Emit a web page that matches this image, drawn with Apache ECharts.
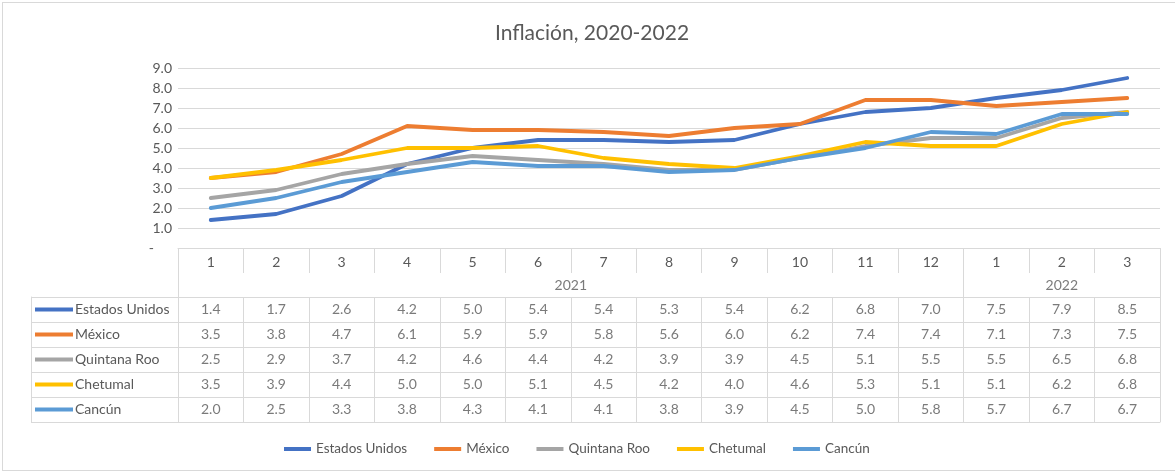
<!DOCTYPE html>
<html>
<head>
<meta charset="utf-8">
<script src="https://cdn.jsdelivr.net/npm/echarts@6/dist/echarts.min.js"></script>
<style>
  html, body { margin: 0; padding: 0; background: #fff; overflow: hidden; }
  #frame { position: absolute; left: 2px; top: 2px; width: 1200px; height: 467px; border: 1px solid #d9d9d9; border-right: none; }
  #chart { position: absolute; left: 0; top: 0; width: 1175px; height: 473px; }
</style>
</head>
<body>
<div id="frame"></div>
<div id="chart"></div>
<script>
// periodos (mes) y años
const months = ["1", "2", "3", "4", "5", "6", "7", "8", "9", "10", "11", "12", "1", "2", "3"];
const years = ["2021", "2022"];
const yearSpans = [12, 3];

const seriesNames = ["Estados Unidos", "México", "Quintana Roo", "Chetumal", "Cancún"];
const seriesColors = ["#4472C4", "#ED7D31", "#A5A5A5", "#FFC000", "#5B9BD5"];

const estadosUnidos = [1.4, 1.7, 2.6, 4.2, 5.0, 5.4, 5.4, 5.3, 5.4, 6.2, 6.8, 7.0, 7.5, 7.9, 8.5];
const mexico = [3.5, 3.8, 4.7, 6.1, 5.9, 5.9, 5.8, 5.6, 6.0, 6.2, 7.4, 7.4, 7.1, 7.3, 7.5];
const quintanaRoo = [2.5, 2.9, 3.7, 4.2, 4.6, 4.4, 4.2, 3.9, 3.9, 4.5, 5.1, 5.5, 5.5, 6.5, 6.8];
const chetumal = [3.5, 3.9, 4.4, 5.0, 5.0, 5.1, 4.5, 4.2, 4.0, 4.6, 5.3, 5.1, 5.1, 6.2, 6.8];
const cancun = [2.0, 2.5, 3.3, 3.8, 4.3, 4.1, 4.1, 3.8, 3.9, 4.5, 5.0, 5.8, 5.7, 6.7, 6.7];

const yMin = 0;
const yMax = 9;
const yStep = 1;

const allSeries = [estadosUnidos, mexico, quintanaRoo, chetumal, cancun];

const textColor = "#595959";
const borderColor = "#d9d9d9";
const font = "Lato, 'Open Sans', sans-serif";

// celdas de la tabla: [columna, fila, valor]
const tableCells = [];
allSeries.forEach((vals, r) => {
  vals.forEach((v, c) => tableCells.push([c, r, v.toFixed(1)]));
});

// años: centro de cada grupo y límites
const yearCells = [];
const yearBounds = [0];
let acc = 0;
years.forEach((y, i) => {
  yearCells.push([acc + yearSpans[i] / 2, 0.5, y]);
  acc += yearSpans[i];
  yearBounds.push(acc);
});

const rich = {};
seriesNames.forEach((n, i) => {
  rich["l" + i] = { width: 38, height: 4, backgroundColor: seriesColors[i] };
});
rich.name = { fontSize: 14, color: textColor, fontFamily: font, padding: [0, 0, 0, 2] };

const chart = echarts.init(document.getElementById("chart"));

chart.setOption({
  animation: false,
  textStyle: { fontFamily: font },
  title: {
    text: "Inflación, 2020-2022",
    left: 587,
    textAlign: "center",
    top: 18,
    textStyle: { fontSize: 21, fontWeight: "normal", color: textColor, fontFamily: font },
  },
  legend: {
    data: seriesNames,
    top: 437,
    left: 279,
    icon: "rect",
    itemWidth: 27,
    itemHeight: 4,
    itemGap: 27,
    textStyle: { fontSize: 13.5, color: textColor, fontFamily: font },
  },
  grid: [
    { left: 178, right: 15, top: 68, height: 180 }, // gráfica
    { left: 178, right: 15, top: 273, height: 24 }, // fila de años
    { left: 178, right: 15, top: 297, height: 125 }, // tabla de datos
  ],
  xAxis: [
    {
      gridIndex: 0,
      type: "category",
      data: months,
      boundaryGap: true,
      axisLine: { lineStyle: { color: borderColor } },
      axisTick: { show: true, length: 25, lineStyle: { color: borderColor } },
      axisLabel: { margin: 7, fontSize: 14, color: textColor, interval: 0 },
    },
    { gridIndex: 1, type: "value", min: 0, max: months.length, show: false },
    {
      gridIndex: 2,
      type: "category",
      data: months,
      boundaryGap: true,
      axisLine: { lineStyle: { color: borderColor } },
      axisTick: { show: false },
      axisLabel: { show: false },
      splitLine: { show: true, interval: 0, lineStyle: { color: borderColor } },
    },
  ],
  yAxis: [
    {
      gridIndex: 0,
      type: "value",
      min: yMin,
      max: yMax,
      interval: yStep,
      axisLine: { show: false },
      axisTick: { show: false },
      splitLine: { lineStyle: { color: borderColor } },
      axisLabel: {
        margin: 6,
        fontSize: 14,
        color: textColor,
        formatter: (v) => (v === 0 ? "{d|-}" : v.toFixed(1)),
        rich: { d: { fontSize: 14, color: textColor, padding: [0, 18, 0, 0] } },
      },
    },
    { gridIndex: 1, type: "value", min: 0, max: 1, show: false },
    {
      gridIndex: 2,
      type: "category",
      data: seriesNames,
      inverse: true,
      boundaryGap: true,
      axisLine: { show: true, lineStyle: { color: borderColor } },
      axisTick: { show: true, length: 147, interval: 0, lineStyle: { color: borderColor } },
      splitLine: { show: true, interval: 0, lineStyle: { color: borderColor } },
      axisLabel: {
        interval: 0,
        align: "left",
        margin: 143,
        formatter: (v, i) => "{l" + i + "|}{name|" + v + "}",
        rich: rich,
      },
    },
    {
      gridIndex: 2,
      type: "category",
      data: seriesNames,
      position: "left",
      offset: 147,
      axisLine: { show: true, lineStyle: { color: borderColor } },
      axisTick: { show: false },
      axisLabel: { show: false },
    },
  ],
  series: [
    ...seriesNames.map((name, i) => ({
      name: name,
      type: "line",
      xAxisIndex: 0,
      yAxisIndex: 0,
      data: allSeries[i],
      symbol: "none",
      color: seriesColors[i],
      lineStyle: { width: 3.8, color: seriesColors[i], cap: "round", join: "round" },
      emphasis: { disabled: true },
    })),
    {
      type: "scatter",
      xAxisIndex: 1,
      yAxisIndex: 1,
      data: yearCells,
      symbolSize: 1,
      itemStyle: { color: "transparent" },
      silent: true,
      label: {
        show: true,
        position: "inside",
        formatter: (p) => p.value[2],
        fontSize: 14,
        color: textColor,
      },
      markLine: {
        silent: true,
        symbol: ["none", "none"],
        label: { show: false },
        lineStyle: { type: "solid", color: borderColor, width: 1 },
        data: yearBounds.map((b) => ({ xAxis: b })),
      },
    },
    {
      type: "scatter",
      xAxisIndex: 2,
      yAxisIndex: 2,
      data: tableCells,
      symbolSize: 1,
      itemStyle: { color: "transparent" },
      silent: true,
      label: {
        show: true,
        position: "inside",
        formatter: (p) => p.value[2],
        fontSize: 14,
        color: textColor,
      },
    },
  ],
});
</script>
</body>
</html>
